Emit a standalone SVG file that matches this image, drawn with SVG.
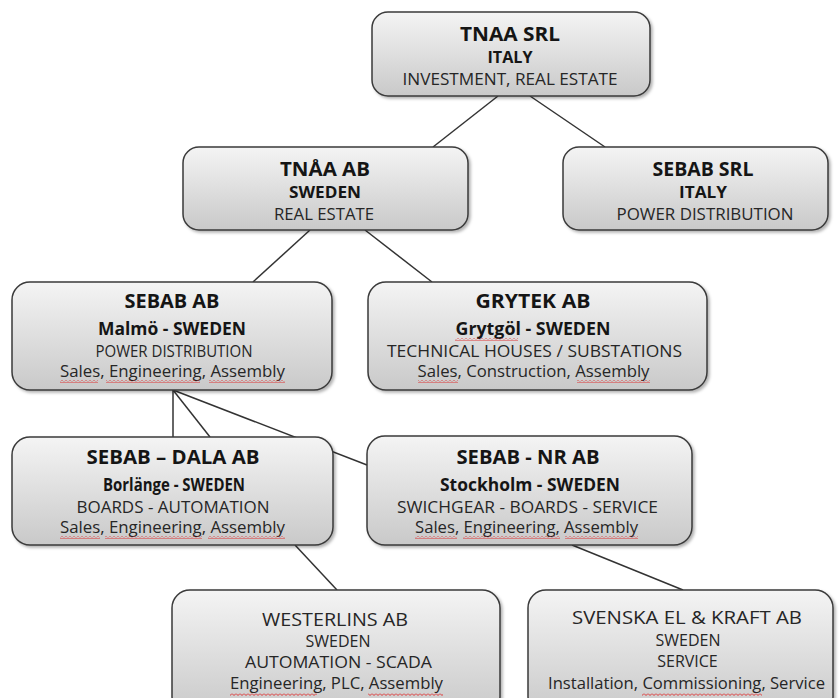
<svg xmlns="http://www.w3.org/2000/svg" width="840" height="698" viewBox="0 0 840 698">
<defs>
<linearGradient id="g" x1="0" y1="0" x2="0" y2="1">
<stop offset="0" stop-color="#f4f4f4"/>
<stop offset="1" stop-color="#c9c9c9"/>
</linearGradient>
<filter id="sh" x="-5%" y="-5%" width="112%" height="120%">
<feDropShadow dx="2" dy="2" stdDeviation="1.8" flood-color="#000" flood-opacity="0.3"/>
</filter>
<pattern id="sq" width="4" height="3" patternUnits="userSpaceOnUse">
<path d="M0,0.5 L2,2.5 L4,0.5" fill="none" stroke="#e02020" stroke-width="0.9"/>
</pattern>
<style>
.box{fill:url(#g);stroke:#3a3a3a;stroke-width:1.5;filter:url(#sh)}
.ln{stroke:#333;stroke-width:1.5;fill:none}
text{font-family:"Open Sans","Liberation Sans",sans-serif;text-anchor:middle;fill:#262626}
.h{font-weight:bold;font-size:20px;fill:#151515}
.h3{font-weight:bold;font-size:19px;fill:#151515}
.b{font-weight:bold;font-size:17px;fill:#151515}
.b16{font-weight:bold;font-size:16px;fill:#151515}
.r17{font-size:17px}
.r16{font-size:16px}
.h2{font-size:19px}
.sq{fill:url(#sq)}
</style>
</defs>
<rect width="840" height="698" fill="#fff"/>
<g id="connectors">
<line class="ln" x1="498" y1="96" x2="433" y2="147"/>
<line class="ln" x1="530" y1="96" x2="605" y2="147"/>
<line class="ln" x1="310" y1="230" x2="253" y2="282"/>
<line class="ln" x1="365" y1="230" x2="432" y2="282"/>
<line class="ln" x1="173" y1="390" x2="173" y2="437"/>
<line class="ln" x1="173" y1="390" x2="210" y2="437"/>
<line class="ln" x1="173" y1="390" x2="367" y2="465"/>
<line class="ln" x1="295" y1="545" x2="337" y2="590"/>
<line class="ln" x1="572" y1="545" x2="683" y2="590"/>
</g>
<g id="tnaa-srl">
<rect class="box" x="372" y="12" width="278" height="84" rx="16"/>
<text class="h3" x="510" y="41" textLength="100" lengthAdjust="spacingAndGlyphs">TNAA SRL</text>
<text class="b16" x="510" y="63" textLength="45" lengthAdjust="spacingAndGlyphs">ITALY</text>
<text class="r17" x="510" y="85" textLength="215" lengthAdjust="spacingAndGlyphs">INVESTMENT, REAL ESTATE</text>
</g>
<g id="tnaa-ab">
<rect class="box" x="183" y="147" width="285" height="83" rx="16"/>
<text class="h3" x="325" y="176" textLength="90" lengthAdjust="spacingAndGlyphs">TNÅA AB</text>
<text class="b16" x="325" y="198" textLength="72" lengthAdjust="spacingAndGlyphs">SWEDEN</text>
<text class="r17" x="324" y="220" textLength="100" lengthAdjust="spacingAndGlyphs">REAL ESTATE</text>
</g>
<g id="sebab-srl">
<rect class="box" x="563" y="147" width="265" height="83" rx="16"/>
<text class="h3" x="703" y="176" textLength="101" lengthAdjust="spacingAndGlyphs">SEBAB SRL</text>
<text class="b16" x="703" y="198" textLength="48" lengthAdjust="spacingAndGlyphs">ITALY</text>
<text class="r17" x="705" y="220" textLength="177" lengthAdjust="spacingAndGlyphs">POWER DISTRIBUTION</text>
</g>
<g id="sebab-ab">
<rect class="box" x="12" y="282" width="320" height="108" rx="18"/>
<text class="h" x="172" y="308" textLength="95" lengthAdjust="spacingAndGlyphs">SEBAB AB</text>
<text class="b" x="172" y="335" textLength="148" lengthAdjust="spacingAndGlyphs">Malmö - SWEDEN</text>
<text class="r16" x="174" y="357" textLength="157" lengthAdjust="spacingAndGlyphs">POWER DISTRIBUTION</text>
<text class="r16" x="172.5" y="377" textLength="225" lengthAdjust="spacingAndGlyphs">Sales, Engineering, Assembly</text>
<rect class="sq" x="60" y="380" width="38" height="3"/>
<rect class="sq" x="106" y="380" width="94" height="3"/>
<rect class="sq" x="209" y="380" width="76" height="3"/>
</g>
<g id="grytek-ab">
<rect class="box" x="368" y="282" width="339" height="108" rx="18"/>
<text class="h" x="533" y="308" textLength="115" lengthAdjust="spacingAndGlyphs">GRYTEK AB</text>
<text class="b" x="533" y="335" textLength="155" lengthAdjust="spacingAndGlyphs">Grytgöl - SWEDEN</text>
<text class="r16" x="534.5" y="357" textLength="295" lengthAdjust="spacingAndGlyphs">TECHNICAL HOUSES / SUBSTATIONS</text>
<text class="r16" x="533.5" y="377" textLength="232" lengthAdjust="spacingAndGlyphs">Sales, Construction, Assembly</text>
<rect class="sq" x="455" y="338" width="63" height="3"/>
<rect class="sq" x="418" y="380" width="40" height="3"/>
<rect class="sq" x="577" y="380" width="73" height="3"/>
</g>
<g id="sebab-dala-ab">
<rect class="box" x="12" y="437" width="321" height="108" rx="18"/>
<text class="h" x="173" y="464" textLength="173" lengthAdjust="spacingAndGlyphs">SEBAB – DALA AB</text>
<text class="b" x="174" y="491" textLength="142" lengthAdjust="spacingAndGlyphs">Borlänge - SWEDEN</text>
<text class="r16" x="173" y="513" textLength="193" lengthAdjust="spacingAndGlyphs">BOARDS - AUTOMATION</text>
<text class="r16" x="172.5" y="533" textLength="225" lengthAdjust="spacingAndGlyphs">Sales, Engineering, Assembly</text>
<rect class="sq" x="60" y="536" width="40" height="3"/>
<rect class="sq" x="105" y="536" width="97" height="3"/>
<rect class="sq" x="208" y="536" width="77" height="3"/>
</g>
<g id="sebab-nr-ab">
<rect class="box" x="367" y="436" width="325" height="109" rx="18"/>
<text class="h" x="528" y="464" textLength="143" lengthAdjust="spacingAndGlyphs">SEBAB - NR AB</text>
<text class="b" x="530" y="491" textLength="180" lengthAdjust="spacingAndGlyphs">Stockholm - SWEDEN</text>
<text class="r16" x="527.5" y="513" textLength="261" lengthAdjust="spacingAndGlyphs">SWICHGEAR - BOARDS - SERVICE</text>
<text class="r16" x="526.5" y="533" textLength="223" lengthAdjust="spacingAndGlyphs">Sales, Engineering, Assembly</text>
<rect class="sq" x="415" y="536" width="42" height="3"/>
<rect class="sq" x="463" y="536" width="97" height="3"/>
<rect class="sq" x="565" y="536" width="73" height="3"/>
</g>
<g id="westerlins-ab">
<rect class="box" x="172" y="590" width="328" height="125" rx="18"/>
<text class="h2" x="335" y="626" textLength="146" lengthAdjust="spacingAndGlyphs">WESTERLINS AB</text>
<text class="r16" x="338" y="647">SWEDEN</text>
<text class="r16" x="338.5" y="668" textLength="187" lengthAdjust="spacingAndGlyphs">AUTOMATION - SCADA</text>
<text class="r16" x="336.5" y="689" textLength="213" lengthAdjust="spacingAndGlyphs">Engineering, PLC, Assembly</text>
<rect class="sq" x="230" y="693" width="87" height="3"/>
<rect class="sq" x="368" y="693" width="75" height="3"/>
</g>
<g id="svenska-el-kraft-ab">
<rect class="box" x="528" y="590" width="305" height="125" rx="18"/>
<text class="h2" x="687" y="624" textLength="230" lengthAdjust="spacingAndGlyphs">SVENSKA EL &amp; KRAFT AB</text>
<text class="r16" x="688" y="646">SWEDEN</text>
<text class="r16" x="687.5" y="667">SERVICE</text>
<text class="r16" x="686.5" y="689" textLength="277" lengthAdjust="spacingAndGlyphs">Installation, Commissioning, Service</text>
<rect class="sq" x="642" y="693" width="120" height="3"/>
</g>
</svg>
